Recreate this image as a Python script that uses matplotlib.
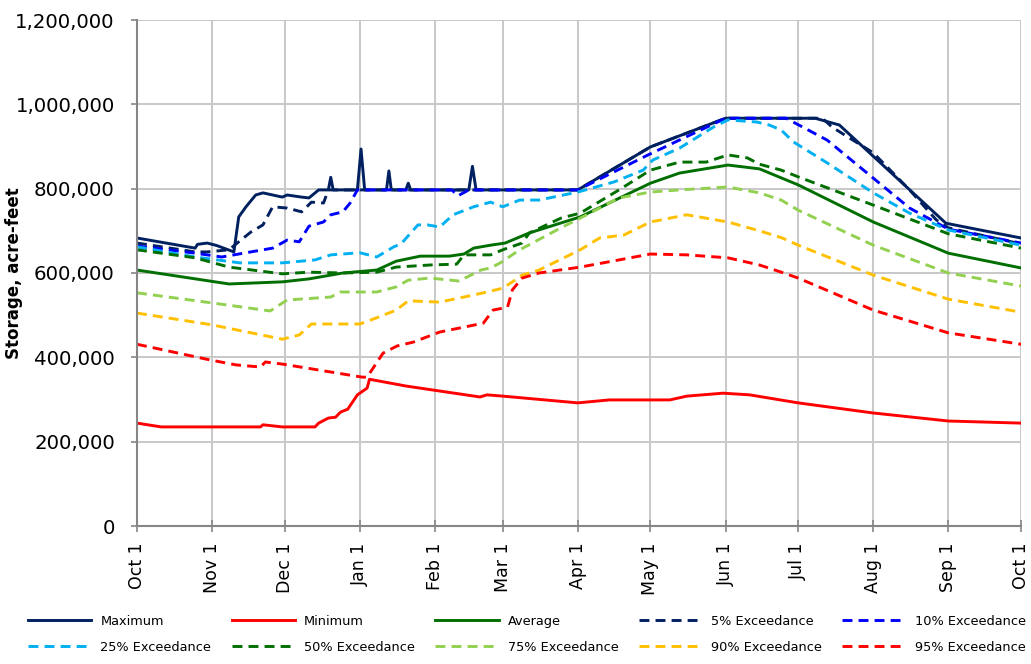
import matplotlib
matplotlib.use("Agg")
import matplotlib.pyplot as plt
from matplotlib.ticker import FuncFormatter

# day of water year (0 = Oct 1) and storage in thousand acre-feet
month_labels = ["Oct 1", "Nov 1", "Dec 1", "Jan 1", "Feb 1", "Mar 1", "Apr 1",
                "May 1", "Jun 1", "Jul 1", "Aug 1", "Sep 1", "Oct 1"]
month_days = [0, 31, 61, 92, 123, 151, 182, 212, 243, 273, 304, 335, 365]

max_days = [0, 24, 25, 29, 33, 40, 42, 45, 49, 52, 60, 62, 68, 71, 75, 79, 80, 81,
            91, 92.5, 94, 103, 104, 105, 111, 112, 113, 137, 138.5, 140,
            182, 212, 243, 280, 290, 334, 365]
max_vals = [683, 659, 668, 671, 665, 650, 733, 757, 785, 790, 780, 785, 780, 778, 797, 797, 827, 797,
            797, 894, 797, 797, 842, 797, 797, 813, 797, 797, 853, 797,
            797, 899, 967, 967, 951, 718, 683]

min_days = [0, 10, 51, 52, 60, 73.5, 75, 79, 82, 84, 87, 89, 91, 95, 96, 111, 141.6, 144.5,
            151, 182, 195, 220, 227, 242, 253, 273, 304, 335, 365]
min_vals = [244, 235, 235, 240, 235, 235, 244, 256, 258, 270, 277, 294, 311, 327, 348, 332, 306, 311,
            308, 292, 299, 299, 308, 315, 311, 292, 268, 249, 244]

avg_days = [0, 38, 60, 71, 85, 99, 107, 117, 129, 135, 139, 146, 152, 162, 183, 212, 224,
            244, 257, 273, 304, 335, 365]
avg_vals = [607, 574, 579, 586, 600, 607, 628, 640, 640, 645, 659, 666, 671, 695, 733, 813, 837,
            856, 847, 809, 721, 647, 612]

p05_days = [0, 24, 29, 38, 42, 47, 52, 56, 62, 68, 72, 77, 79, 182, 212, 243, 283, 287,
            304, 319, 330, 335, 365]
p05_vals = [671, 650, 650, 655, 674, 697, 714, 757, 754, 745, 768, 766, 797, 797, 899, 967, 967, 946,
            885, 797, 726, 707, 669]

p10_days = [0, 24, 35, 42, 52, 56, 62, 67, 71, 77, 80, 85, 88, 91, 130, 132.5, 137, 182,
            211, 243, 268, 285, 304, 319, 335, 365]
p10_vals = [664, 647, 638, 645, 655, 659, 678, 674, 711, 721, 738, 745, 766, 797, 797, 783, 797, 797,
            880, 967, 967, 915, 825, 754, 704, 671]

p25_days = [0, 24, 42.5, 60, 73.5, 80, 92, 99, 106, 109, 116, 120, 125, 130.5, 139, 146, 151,
            158, 166, 182, 197, 209, 213, 224, 238, 244, 256, 261, 266, 271, 285, 304, 319, 335, 365]
p25_vals = [662, 638, 624, 624, 631, 643, 648, 638, 662, 669, 714, 714, 709, 738, 757, 768, 757,
            773, 773, 792, 816, 844, 868, 896, 946, 963, 958, 951, 939, 911, 861, 790, 742, 702, 666]

p50_days = [0, 24, 38, 60, 71, 85, 99, 107, 121, 132, 135, 146, 151, 159, 162, 175, 183, 199,
            212, 224, 235, 244, 252, 257, 266, 273, 304, 335, 365]
p50_vals = [655, 636, 614, 598, 602, 600, 602, 614, 619, 621, 643, 643, 655, 671, 695, 730, 742, 797,
            844, 863, 863, 880, 873, 858, 844, 828, 761, 693, 659]

p75_days = [0, 31, 55, 62, 80, 84, 99, 107, 112, 121, 133, 142, 146, 150, 158, 175, 183, 199,
            212, 224, 244, 257, 266, 273, 304, 335, 365]
p75_vals = [553, 529, 510, 536, 543, 555, 555, 567, 583, 588, 581, 607, 612, 624, 655, 707, 730, 778,
            792, 797, 804, 790, 773, 749, 666, 600, 569]

p90_days = [0, 31, 60, 67, 72, 92, 100, 107, 112, 125, 135, 143, 151, 155, 159, 166, 183, 191,
            201, 212, 227, 244, 257, 266, 273, 304, 335, 365]
p90_vals = [505, 477, 443, 453, 479, 479, 496, 512, 534, 531, 543, 553, 564, 579, 595, 607, 655, 683,
            690, 721, 738, 721, 700, 684, 666, 595, 538, 507]

p95_days = [0, 30, 41, 51, 53, 60, 93, 95, 101.6, 107.4, 114, 125, 143, 147, 153, 155, 159, 166,
            183, 199, 212, 227, 244, 257, 266, 273, 304, 335, 365]
p95_vals = [431, 394, 382, 377, 389, 384, 353, 353, 410, 427, 436, 460, 481, 512, 519, 560, 588, 600,
            614, 631, 645, 643, 636, 619, 602, 588, 512, 458, 431]

series = [
    ("Maximum", max_days, max_vals, "#002060", "-"),
    ("Minimum", min_days, min_vals, "#FF0000", "-"),
    ("Average", avg_days, avg_vals, "#006E00", "-"),
    ("5% Exceedance", p05_days, p05_vals, "#002060", "--"),
    ("10% Exceedance", p10_days, p10_vals, "#0000FF", "--"),
    ("25% Exceedance", p25_days, p25_vals, "#00B0F0", "--"),
    ("50% Exceedance", p50_days, p50_vals, "#006E00", "--"),
    ("75% Exceedance", p75_days, p75_vals, "#92D050", "--"),
    ("90% Exceedance", p90_days, p90_vals, "#FFC000", "--"),
    ("95% Exceedance", p95_days, p95_vals, "#FF0000", "--"),
]

plt.rcParams["font.family"] = ["DejaVu Sans"]
fig = plt.figure(figsize=(10.31, 6.64), dpi=100)
ax = fig.add_axes([137 / 1031, 138 / 664, 884 / 1031, 506 / 664])

handles = []
for label, d, v, color, ls in series:
    line, = ax.plot(d, [x * 1000 for x in v], color=color, ls=ls, lw=2.1, label=label)
    if ls == "--":
        line.set_dashes((3.4, 2.1))
    handles.append(line)

ax.set_xlim(0, 365)
ax.set_ylim(0, 1200000)
ax.set_xticks(month_days)
ax.set_xticklabels(month_labels, rotation=90, fontsize=12.5)
ax.set_yticks(range(0, 1200001, 200000))
ax.yaxis.set_major_formatter(FuncFormatter(lambda y, p: f"{int(y):,}"))
ax.tick_params(axis="y", labelsize=14.2, length=4, width=1.2, color="#868686", pad=12)
ax.tick_params(axis="x", length=8, width=1.2, color="#868686", pad=8, direction="inout")
ax.grid(True, color="#C8C8C8", lw=1.4)
ax.set_axisbelow(True)
for s in ["top", "right"]:
    ax.spines[s].set_visible(False)
for s in ["left", "bottom"]:
    ax.spines[s].set_color("#868686")
    ax.spines[s].set_linewidth(1.5)
ax.set_ylabel("Storage, acre-feet", fontsize=12, fontweight="bold")
ax.yaxis.set_label_coords(-114 / 884, 0.5)

# row-major order for a 2 x 5 legend
order = [0, 5, 1, 6, 2, 7, 3, 8, 4, 9]
fig.legend([handles[i] for i in order], [series[i][0] for i in order],
           ncol=5, loc="upper left", bbox_to_anchor=(28 / 1031, 1 - 615 / 664),
           frameon=False, fontsize=9.3, handlelength=4.9, handletextpad=0.7,
           columnspacing=1.58, labelspacing=1.0, borderpad=0, borderaxespad=0)

fig.savefig("out.png", dpi=100)
